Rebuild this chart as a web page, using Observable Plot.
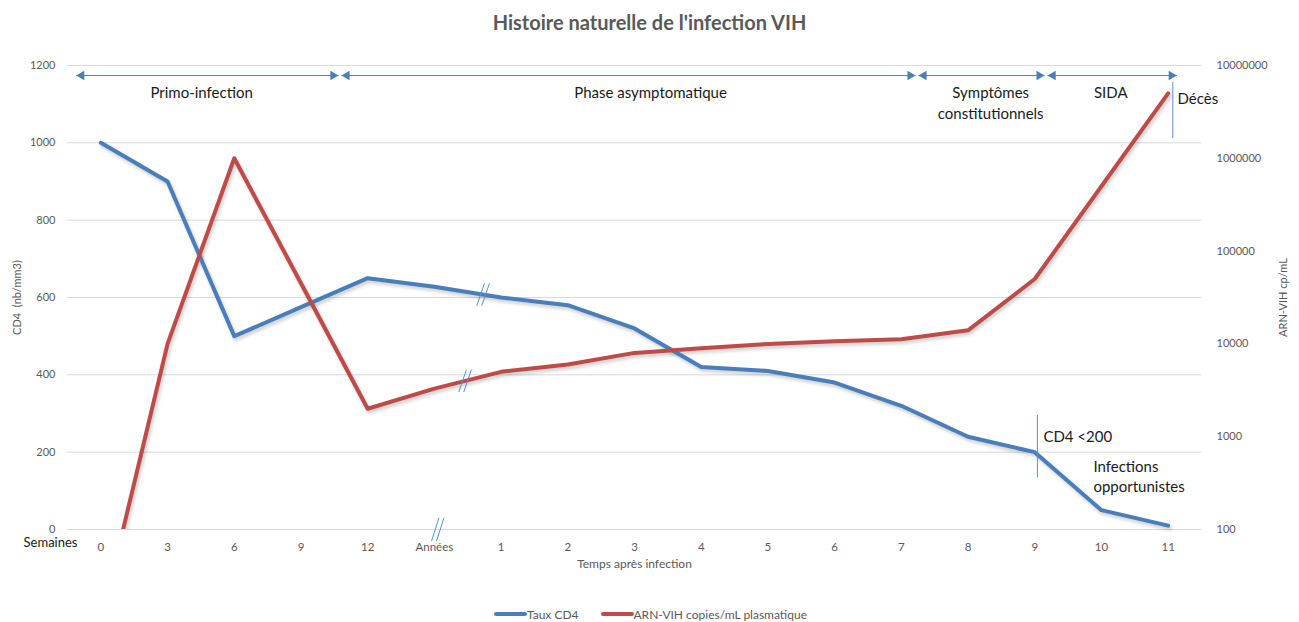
<!DOCTYPE html>
<html><head><meta charset="utf-8">
<script src="https://cdn.jsdelivr.net/npm/d3@7"></script>
<script src="https://cdn.jsdelivr.net/npm/@observablehq/plot@0.6"></script>
<style>
body{margin:0;background:#fff;font-family:Lato, "Open Sans", sans-serif;}
#title{height:44px;line-height:44px;text-align:center;font-size:20px;font-weight:bold;color:#595959;}
#chart{height:552px;}
#legend{height:16px;padding-top:10px;display:flex;justify-content:center;align-items:center;font-size:12px;color:#595959;padding-left:2px;}
.sw{display:inline-block;width:33px;height:4px;border-radius:2px;}
.item{display:flex;align-items:center;margin:0 11px;}
</style></head><body>
<div id="title">Histoire naturelle de l'infection VIH</div>
<div id="chart"></div>
<div id="legend">
  <span class="item"><span class="sw" style="background:#4A7EBB"></span><span>Taux CD4</span></span>
  <span class="item"><span class="sw" style="background:#BE4B48"></span><span>ARN-VIH copies/mL plasmatique</span></span>
</div>
<script>
// ---- data ----
const categories = ["0","3","6","9","12","Années","1","2","3","4","5","6","7","8","9","10","11"];
const cd4 = [1000,900,500,575,650,628,600,580,520,420,410,380,320,240,200,50,10];
const arn = [10,10000,1000000,45000,2000,3300,5000,6000,8000,9000,10000,10700,11200,14000,50000,500000,5000000];
const cd4Ticks = [0,200,400,600,800,1000,1200];
const arnTicks = [100,1000,10000,100000,1000000,10000000];
const phaseLabels = ["Primo-infection","Phase asymptomatique","Symptômes\nconstitutionnels","SIDA"];
const phaseBounds = [-0.37, 3.585, 12.235, 14.17, 16.13];
const phaseLabelPos = [1.51, 8.24, 13.34, 15.14];

// ---- scales ----
const BLUE = "#4A7EBB", RED = "#BE4B48", ANN = "#5b8fd0";
const logToY = d3.scaleLog().domain([100, 1e7]).range([0, 1200]);
const idx = d3.range(categories.length);
const cd4Data = idx.map(i => ({i, v: cd4[i]}));
const arnData = idx.map(i => ({i, v: logToY(arn[i])}));

// phase arrows
const arrowY = 1174;
const segs = phaseLabels.map((l, k) => ({x1: phaseBounds[k] + (k ? 0.022 : 0), x2: phaseBounds[k+1] - (k < 3 ? 0.022 : 0)}));
const leftHeads = segs.map(s => s.x1);
const rightHeads = segs.map(s => s.x2);

// break marks (centered on the lines between "Années" and "1")
function breakLines(ci, cv, hx = 0.057, hv = 29, gap = 0.075) {
  return [-gap/2, gap/2].map(o => ({x1: ci + o - hx, y1: cv - hv, x2: ci + o + hx, y2: cv + hv}));
}
const interp = (arr, t) => arr[5].v + (arr[6].v - arr[5].v) * t;
const breaks = [
  ...breakLines(5.05, 0, 0.055, 30),
  ...breakLines(5.73, interp(cd4Data, 0.73)),
  ...breakLines(5.46, interp(arnData, 0.46))
];

const plot = Plot.plot({
  width: 1299, height: 552,
  marginTop: 21, marginBottom: 67, marginLeft: 67, marginRight: 98,
  style: {fontFamily: "Lato, 'Open Sans', sans-serif", fontSize: "11px", color: "#595959", background: "transparent", overflow: "visible"},
  x: {domain: [-0.5, categories.length - 0.5], axis: null},
  y: {domain: [0, 1200], axis: null},
  marks: [
    Plot.gridY(cd4Ticks, {stroke: "#d9d9d9", strokeOpacity: 1}),
    Plot.axisY(cd4Ticks, {anchor: "left", tickSize: 0, tickPadding: 12, label: null, tickFormat: d => String(d)}),
    Plot.axisY(arnTicks.map(d => logToY(d)), {anchor: "right", tickSize: 0, tickPadding: 15, label: null,
      tickFormat: d => String(Math.round(logToY.invert(d)))}),
    Plot.axisX(idx, {anchor: "bottom", tickSize: 0, tickPadding: 13, label: null, fontSize: 11.5, tickFormat: i => categories[i]}),
    Plot.text(["Semaines"], {frameAnchor: "bottom-left", dx: 10, dy: 17, textAnchor: "end", fill: "#1a1a1a", fontSize: 13}),
    Plot.text(["Temps après infection"], {frameAnchor: "bottom", dy: 38, fill: "#595959", fontSize: 12}),
    Plot.text(["CD4  (nb/mm3)"], {frameAnchor: "left", dx: -50, rotate: -90, textAnchor: "middle", fill: "#595959", fontSize: 11}),
    Plot.text(["ARN-VIH cp/mL"], {frameAnchor: "right", dx: 82, rotate: -90, textAnchor: "middle", fill: "#595959", fontSize: 11}),
    // shadows
    Plot.line(cd4Data, {x: "i", y: "v", stroke: "#000", strokeOpacity: 0.16, strokeWidth: 5, dx: 1.5, dy: 2.5, strokeLinejoin: "round", imageFilter: "blur(1.5px)"}),
    Plot.line(arnData, {x: "i", y: "v", stroke: "#000", strokeOpacity: 0.16, strokeWidth: 5, dx: 1.5, dy: 2.5, strokeLinejoin: "round", clip: true, imageFilter: "blur(1.5px)"}),
    // series
    Plot.line(cd4Data, {x: "i", y: "v", stroke: BLUE, strokeWidth: 4, strokeLinejoin: "round", strokeLinecap: "round"}),
    Plot.line(arnData, {x: "i", y: "v", stroke: RED, strokeWidth: 4, strokeLinejoin: "round", strokeLinecap: "round", clip: true}),
    // break marks
    Plot.link(breaks, {x1: "x1", y1: "y1", x2: "x2", y2: "y2", stroke: ANN, strokeWidth: 1}),
    // phase arrows
    Plot.link(segs, {x1: "x1", x2: "x2", y1: arrowY, y2: arrowY, stroke: BLUE, strokeWidth: 1}),
    Plot.dot(leftHeads, {x: d => d, y: arrowY, symbol: "triangle", r: 3.5, fill: BLUE, stroke: null, rotate: -90, dx: 5.4}),
    Plot.dot(rightHeads, {x: d => d, y: arrowY, symbol: "triangle", r: 3.5, fill: BLUE, stroke: null, rotate: 90, dx: -5.4}),
    Plot.text(phaseLabels, {x: (d, k) => phaseLabelPos[k], y: 1153, lineAnchor: "top", lineHeight: 1.36, fontSize: 15, fill: "#1a1a1a"}),
    // Décès
    Plot.ruleX([16.07], {y1: 1011, y2: 1156, stroke: ANN, strokeWidth: 1}),
    Plot.text(["Décès"], {x: 16.14, y: 1112, textAnchor: "start", fontSize: 15, fill: "#1a1a1a"}),
    // CD4 < 200
    Plot.ruleX([14.04], {y1: 134, y2: 295, stroke: ANN, strokeWidth: 1}),
    Plot.text(["CD4 <200"], {x: 14.13, y: 238, textAnchor: "start", fontSize: 15, fill: "#1a1a1a"}),
    Plot.text(["Infections\nopportunistes"], {x: 14.88, y: 186, textAnchor: "start", lineAnchor: "top", lineHeight: 1.36, fontSize: 15, fill: "#1a1a1a"})
  ]
});
document.getElementById("chart").appendChild(plot);
</script>
</body></html>
